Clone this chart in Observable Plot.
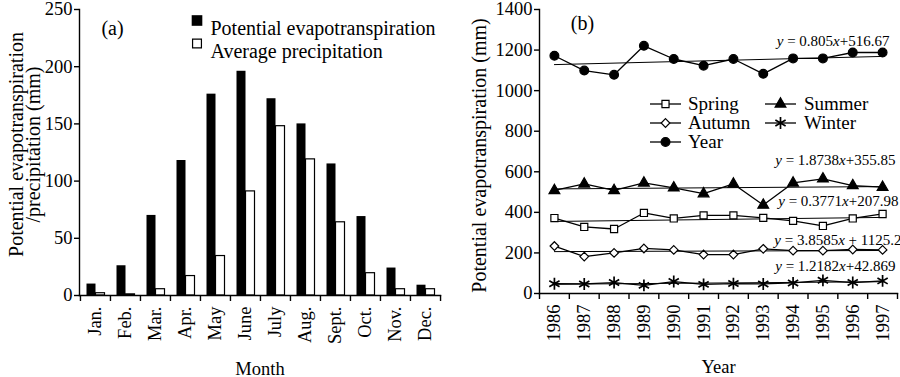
<!DOCTYPE html>
<html><head><meta charset="utf-8">
<script src="https://cdn.jsdelivr.net/npm/d3@7"></script>
<script src="https://cdn.jsdelivr.net/npm/@observablehq/plot@0.6"></script>
<style>
body{margin:0;background:#fff;}
#wrap{display:flex;width:900px;height:377px;overflow:hidden;}
#wrap svg{font-family:"Liberation Serif","Times New Roman",serif;}
</style></head><body><div id="wrap"></div>
<script>
// ---------- data: panel (a) ----------
const months = ["Jan.","Feb.","Mar.","Apr.","May","June","July","Aug.","Sept.","Oct.","Nov.","Dec."];
const petMonthly = [10, 26, 70, 118, 176, 196, 172, 150, 115, 69, 24, 9];
const precipMonthly = [2, 1, 5.5, 17, 34.5, 91, 148, 119, 64, 19.5, 5.5, 5.5];
const barLegend = ["Potential evapotranspiration", "Average precipitation"];
const yTicksA = [0, 50, 100, 150, 200, 250];

// ---------- data: panel (b) ----------
const years = [1986,1987,1988,1989,1990,1991,1992,1993,1994,1995,1996,1997];
const spring = [372, 328, 318, 397, 370, 385, 385, 373, 358, 333, 370, 392];
const summer = [508, 540, 508, 545, 521, 492, 540, 436, 545, 565, 532, 524];
const autumn = [234, 182, 200, 222, 215, 192, 192, 220, 211, 211, 217, 215];
const winter = [48, 47, 54, 40, 59, 45, 49, 47, 52, 65, 54, 62];
const annual = [1172, 1099, 1078, 1221, 1156, 1123, 1156, 1083, 1159, 1159, 1188, 1188];
const seriesNames = ["Spring", "Summer", "Autumn", "Winter", "Year"];
const equations = ["y = 0.805x+516.67", "y = 1.8738x+355.85", "y = 0.3771x+207.98", "y = 3.8585x + 1125.2", "y = 1.2182x+42.869"];
const yTicksB = [0, 200, 400, 600, 800, 1000, 1200, 1400];

const FONT = '"Liberation Serif","Times New Roman",serif';
const style = {fontFamily: FONT, fontSize: "18.5px", background: "white", color: "black", overflow: "visible"};
const LEG = 20;
const LEGB = 19;

// ---------- panel (a) ----------
const monthData = months.map((m, i) => ({month: m, pet: petMonthly[i], p: precipMonthly[i]}));
const aLeft = 79, aRight = 10, aW = 450;
const bwA = (aW - aLeft - aRight) / months.length;

const plotA = Plot.plot({
  width: aW, height: 377, marginLeft: aLeft, marginRight: aRight, marginTop: 9, marginBottom: 82,
  style,
  x: {type: "band", domain: months, padding: 0, label: null},
  y: {domain: [0, 250], label: null},
  marks: [
    Plot.barY(monthData, {x: "month", y: "pet", fill: "black", insetLeft: 6.5, insetRight: 14.5}),
    Plot.barY(monthData, {x: "month", y: "p", fill: "white", stroke: "black", strokeWidth: 1.2, insetLeft: 15.5, insetRight: 5.5}),
    Plot.frame({anchor: "left", strokeWidth: 1.4}),
    Plot.frame({anchor: "bottom", strokeWidth: 1.4}),
    Plot.axisY({ticks: yTicksA, tickSize: 5, tickPadding: 2, strokeWidth: 1.4, label: null}),
    Plot.axisX({tickSize: 0, tickPadding: 11, tickRotate: -90, label: "Month", labelAnchor: "center", labelArrow: "none", labelOffset: 79}),
    Plot.axisX({ticks: months, text: null, tickSize: 6, strokeWidth: 1.4, dx: -bwA / 2}),
    Plot.axisX({ticks: [months[months.length - 1]], text: null, tickSize: 6, strokeWidth: 1.4, dx: bwA / 2}),
    Plot.text(["Potential evapotranspiration\n/precipitation (mm)"], {frameAnchor: "left", textAnchor: "middle", rotate: -90, dx: -53.5, dy: -8, lineHeight: 0.88, fontSize: LEG, lineAnchor: "middle"}),
    Plot.text(["(a)"], {frameAnchor: "top-left", textAnchor: "middle", dx: 33, dy: 11, fontSize: LEG}),
    Plot.dot([barLegend[0]], {frameAnchor: "top-left", dx: 117.5, dy: 11, symbol: "square", fill: "black", r: 6}),
    Plot.dot([barLegend[1]], {frameAnchor: "top-left", dx: 117.5, dy: 34, symbol: "square", fill: "white", stroke: "black", strokeWidth: 1.2, r: 5}),
    Plot.text([barLegend[0]], {frameAnchor: "top-left", dx: 131, dy: 11, textAnchor: "start", fontSize: LEG}),
    Plot.text([barLegend[1]], {frameAnchor: "top-left", dx: 131, dy: 34, textAnchor: "start", fontSize: LEG})
  ]
});

// ---------- panel (b) ----------
const seasonal = [spring, summer, autumn, winter, annual];
const symbols = ["square", "triangle", "diamond2", "asterisk", "circle"];
const fills = ["white", "black", "white", "none", "black"];
const radii = [4, 4, 3.9, 5.6, 4.4];
const long = seriesNames.flatMap((name, k) => years.map((yr, i) => ({series: name, year: yr, value: seasonal[k][i]})));

const bLeft = 89, bRight = 3;
const seriesMarks = seriesNames.flatMap((name, k) => {
  const rows = long.filter(d => d.series === name);
  return [
    Plot.linearRegressionY(rows, {x: "year", y: "value", ci: 0, stroke: "black", strokeWidth: 1}),
    Plot.line(rows, {x: "year", y: "value", stroke: "black", strokeWidth: 1.3}),
    Plot.dot(rows, {x: "year", y: "value", symbol: symbols[k], fill: fills[k], stroke: "black", strokeWidth: k === 3 ? 1.7 : 1.2, r: radii[k]})
  ];
});

// equation labels: anchored to the last value of the series they sit above
const eqAnchor = [annual, summer, spring, autumn, winter];
const eqDx = [-8, -2, 1, 4, -2];
const eqDy = [-11, -27, -13, -10, -15];
const eqMarks = equations.map((e, k) =>
  Plot.text([e], {frameAnchor: "right", y: [eqAnchor[k][eqAnchor[k].length - 1]], dx: eqDx[k], dy: eqDy[k], textAnchor: "end", fontSize: 15, className: "eq"})
);

function legendB(index, scales, values, dims) {
  const g = d3.create("svg:g").attr("font-family", FONT).attr("font-size", LEGB).attr("text-anchor", "start");
  const colLine = [200, 315], colText = [238, 354], rowY = [104, 123, 142];
  seriesNames.forEach((name, k) => {
    const c = k % 2, r = Math.floor(k / 2);
    const x0 = colLine[c], y0 = rowY[r];
    g.append("line").attr("x1", x0).attr("x2", x0 + 31).attr("y1", y0).attr("y2", y0).attr("stroke", "black").attr("stroke-width", 1.3);
    const sym = {square: d3.symbolSquare, triangle: d3.symbolTriangle, diamond2: d3.symbolDiamond2, asterisk: d3.symbolAsterisk, circle: d3.symbolCircle}[symbols[k]];
    g.append("path").attr("d", d3.symbol(sym, Math.PI * radii[k] * radii[k])())
      .attr("transform", `translate(${x0 + 15.5},${y0})`)
      .attr("fill", fills[k]).attr("stroke", "black").attr("stroke-width", k === 3 ? 1.7 : 1.2);
    g.append("text").attr("x", colText[c]).attr("y", y0).attr("dy", "0.32em").text(name);
  });
  return g.node();
}

const plotB = Plot.plot({
  width: 450, height: 377, marginLeft: bLeft, marginRight: bRight, marginTop: 9, marginBottom: 84,
  style,
  x: {domain: [years[0] - 0.5, years[years.length - 1] + 0.5], label: null},
  y: {domain: [0, 1400], label: null},
  marks: [
    ...seriesMarks,
    Plot.frame({anchor: "left", strokeWidth: 1.4}),
    Plot.frame({anchor: "bottom", strokeWidth: 1.4}),
    Plot.axisY({ticks: yTicksB, tickFormat: "d", tickSize: 5, tickPadding: 2, strokeWidth: 1.4, label: null}),
    Plot.axisX({ticks: years, tickFormat: "d", tickSize: 0, tickPadding: 11, tickRotate: -90, label: "Year", labelAnchor: "center", labelArrow: "none", labelOffset: 79}),
    Plot.axisX({ticks: d3.range(years[0] - 0.5, years[years.length - 1] + 1, 1), text: null, tickSize: 6, strokeWidth: 1.4}),
    Plot.text(["Potential evapotranspiration (mm)"], {frameAnchor: "left", textAnchor: "middle", rotate: -90, dx: -60, dy: 4, fontSize: LEG}),
    Plot.text(["(b)"], {frameAnchor: "top-left", textAnchor: "middle", dx: 43, dy: 6, fontSize: LEG}),
    ...eqMarks,
    legendB
  ]
});

// italic x and y in the regression equations
d3.select(plotB).selectAll(".eq text").each(function () {
  const t = this.textContent;
  const m = t.match(/^(y)(.*?)(x)(.*)$/);
  if (!m) return;
  const sel = d3.select(this);
  sel.text(null);
  sel.append("tspan").attr("font-style", "italic").text(m[1]);
  sel.append("tspan").text(m[2]);
  sel.append("tspan").attr("font-style", "italic").text(m[3]);
  sel.append("tspan").text(m[4]);
});

document.getElementById("wrap").append(plotA, plotB);
</script>
</body></html>
